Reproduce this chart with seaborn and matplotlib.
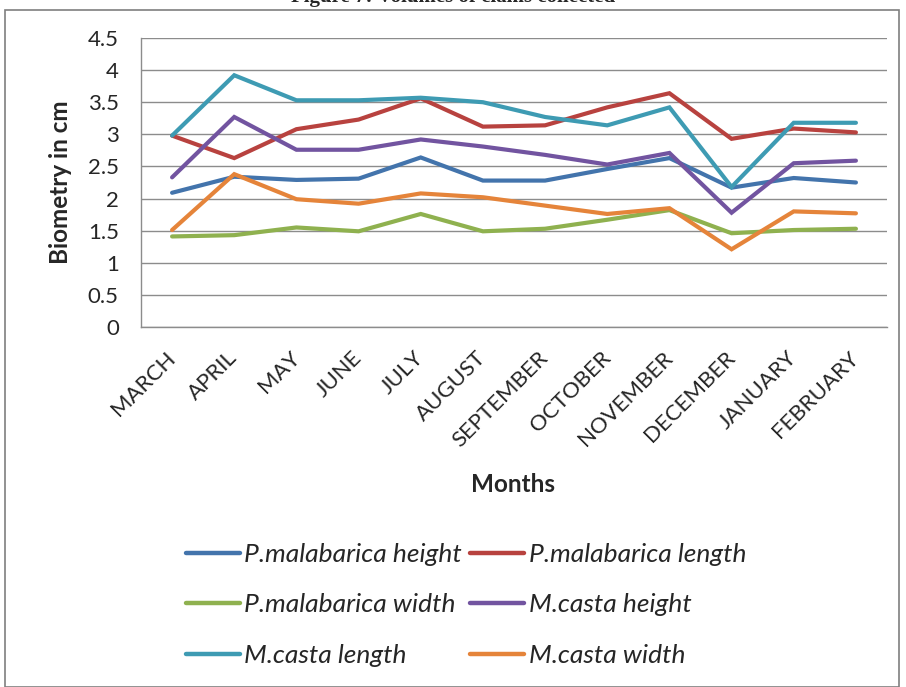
import matplotlib
matplotlib.use("Agg")
import matplotlib.pyplot as plt
import seaborn as sns
import pandas as pd
from matplotlib.patches import Rectangle
from matplotlib.ticker import MultipleLocator, FixedLocator

months = ["MARCH", "APRIL", "MAY", "JUNE", "JULY", "AUGUST", "SEPTEMBER",
          "OCTOBER", "NOVEMBER", "DECEMBER", "JANUARY", "FEBRUARY"]
pm_height = [2.09, 2.34, 2.29, 2.31, 2.64, 2.28, 2.28, 2.46, 2.63, 2.17, 2.32, 2.25]
pm_length = [2.98, 2.63, 3.08, 3.23, 3.56, 3.12, 3.14, 3.42, 3.64, 2.93, 3.09, 3.03]
pm_width = [1.41, 1.43, 1.55, 1.49, 1.76, 1.49, 1.53, 1.67, 1.82, 1.46, 1.51, 1.53]
mc_height = [2.33, 3.27, 2.76, 2.76, 2.92, 2.81, 2.68, 2.53, 2.71, 1.78, 2.55, 2.59]
mc_length = [2.98, 3.92, 3.53, 3.53, 3.57, 3.50, 3.27, 3.14, 3.42, 2.18, 3.18, 3.18]
mc_width = [1.51, 2.38, 1.99, 1.92, 2.08, 2.02, 1.89, 1.76, 1.85, 1.21, 1.80, 1.77]

series_names = ["P.malabarica height", "P.malabarica length", "P.malabarica width",
                "M.casta height", "M.casta length", "M.casta width"]
series_vals = [pm_height, pm_length, pm_width, mc_height, mc_length, mc_width]
colors = ["#4374AC", "#B8423F", "#8FB14F", "#7254A0", "#3E9BB3", "#E5843A"]

rows = []
for name, vals in zip(series_names, series_vals):
    for i, v in enumerate(vals):
        rows.append({"idx": i, "value": v, "series": name})
df = pd.DataFrame(rows)

sns.set_theme(style="white")
plt.rcParams["font.family"] = ["Lato", "DejaVu Sans"]

fig = plt.figure(figsize=(9.06, 6.87), dpi=100)
ax = fig.add_axes([141 / 906, 1 - 327 / 687, (887 - 141) / 906, (327 - 38) / 687])

sns.lineplot(data=df, x="idx", y="value", hue="series", hue_order=series_names,
             palette=colors, linewidth=3, ax=ax, legend=False,
             solid_capstyle="round", solid_joinstyle="miter")

ax.set_xlim(-0.5, 11.5)
ax.set_ylim(0, 4.5)
ax.yaxis.set_major_locator(MultipleLocator(0.5))
ax.set_yticks(ax.get_yticks())
ax.set_yticklabels([f"{t:g}" for t in ax.get_yticks()])
ax.set_ylim(0, 4.5)
ax.yaxis.grid(True, color="#8c8c8c", linewidth=1)
ax.set_axisbelow(True)

ax.xaxis.set_major_locator(FixedLocator(range(len(months))))
ax.set_xticklabels(months, rotation=45, ha="right", va="center",
                   rotation_mode="anchor", fontsize=16)
ax.xaxis.set_minor_locator(FixedLocator([i - 0.5 for i in range(len(months) + 1)]))
ax.tick_params(axis="x", which="major", length=0, pad=20)
ax.tick_params(axis="x", which="minor", length=7, color="#8c8c8c", width=1, direction="out")
ax.tick_params(axis="y", which="major", length=7, color="#8c8c8c", width=1,
               direction="out", labelsize=16, pad=9)

for s in ["top", "right"]:
    ax.spines[s].set_visible(False)
for s in ["left", "bottom"]:
    ax.spines[s].set_color("#8c8c8c")
    ax.spines[s].set_linewidth(1)

ax.set_xlabel("Months", fontsize=17.5, fontweight="bold", va="center")
ax.xaxis.set_label_coords((513 - 141) / (887 - 141), -(485 - 327) / (327 - 38))
ax.set_ylabel("Biometry in cm", fontsize=17.5, fontweight="bold", va="center")
ax.yaxis.set_label_coords(-(141 - 60) / (887 - 141), 0.5)

# legend filled column-wise -> reorder so rows read as in the reference
order = [0, 2, 4, 1, 3, 5]
handles = [plt.Line2D([], [], color=colors[i], lw=3.2, solid_capstyle="round") for i in order]
labels = [series_names[i] for i in order]
fig.legend(handles, labels, loc="center", ncol=2,
           bbox_to_anchor=(466 / 906, 1 - 605 / 687), frameon=False,
           prop={"style": "italic", "size": 19}, handlelength=2.05,
           handletextpad=0.18, columnspacing=0.3, labelspacing=1.05)

fig.patches.append(Rectangle((5 / 906, 0), 894 / 906, 1 - 10 / 687,
                             transform=fig.transFigure, fill=False,
                             edgecolor="#7f7f7f", linewidth=1.2))
fig.text(453 / 906, 1 + 3 / 687, "Figure 7: Volumes of clams collected",
         ha="center", va="center", fontsize=15, fontweight="bold",
         family=["Liberation Serif", "DejaVu Serif"])

fig.savefig("out.png", dpi=100)
